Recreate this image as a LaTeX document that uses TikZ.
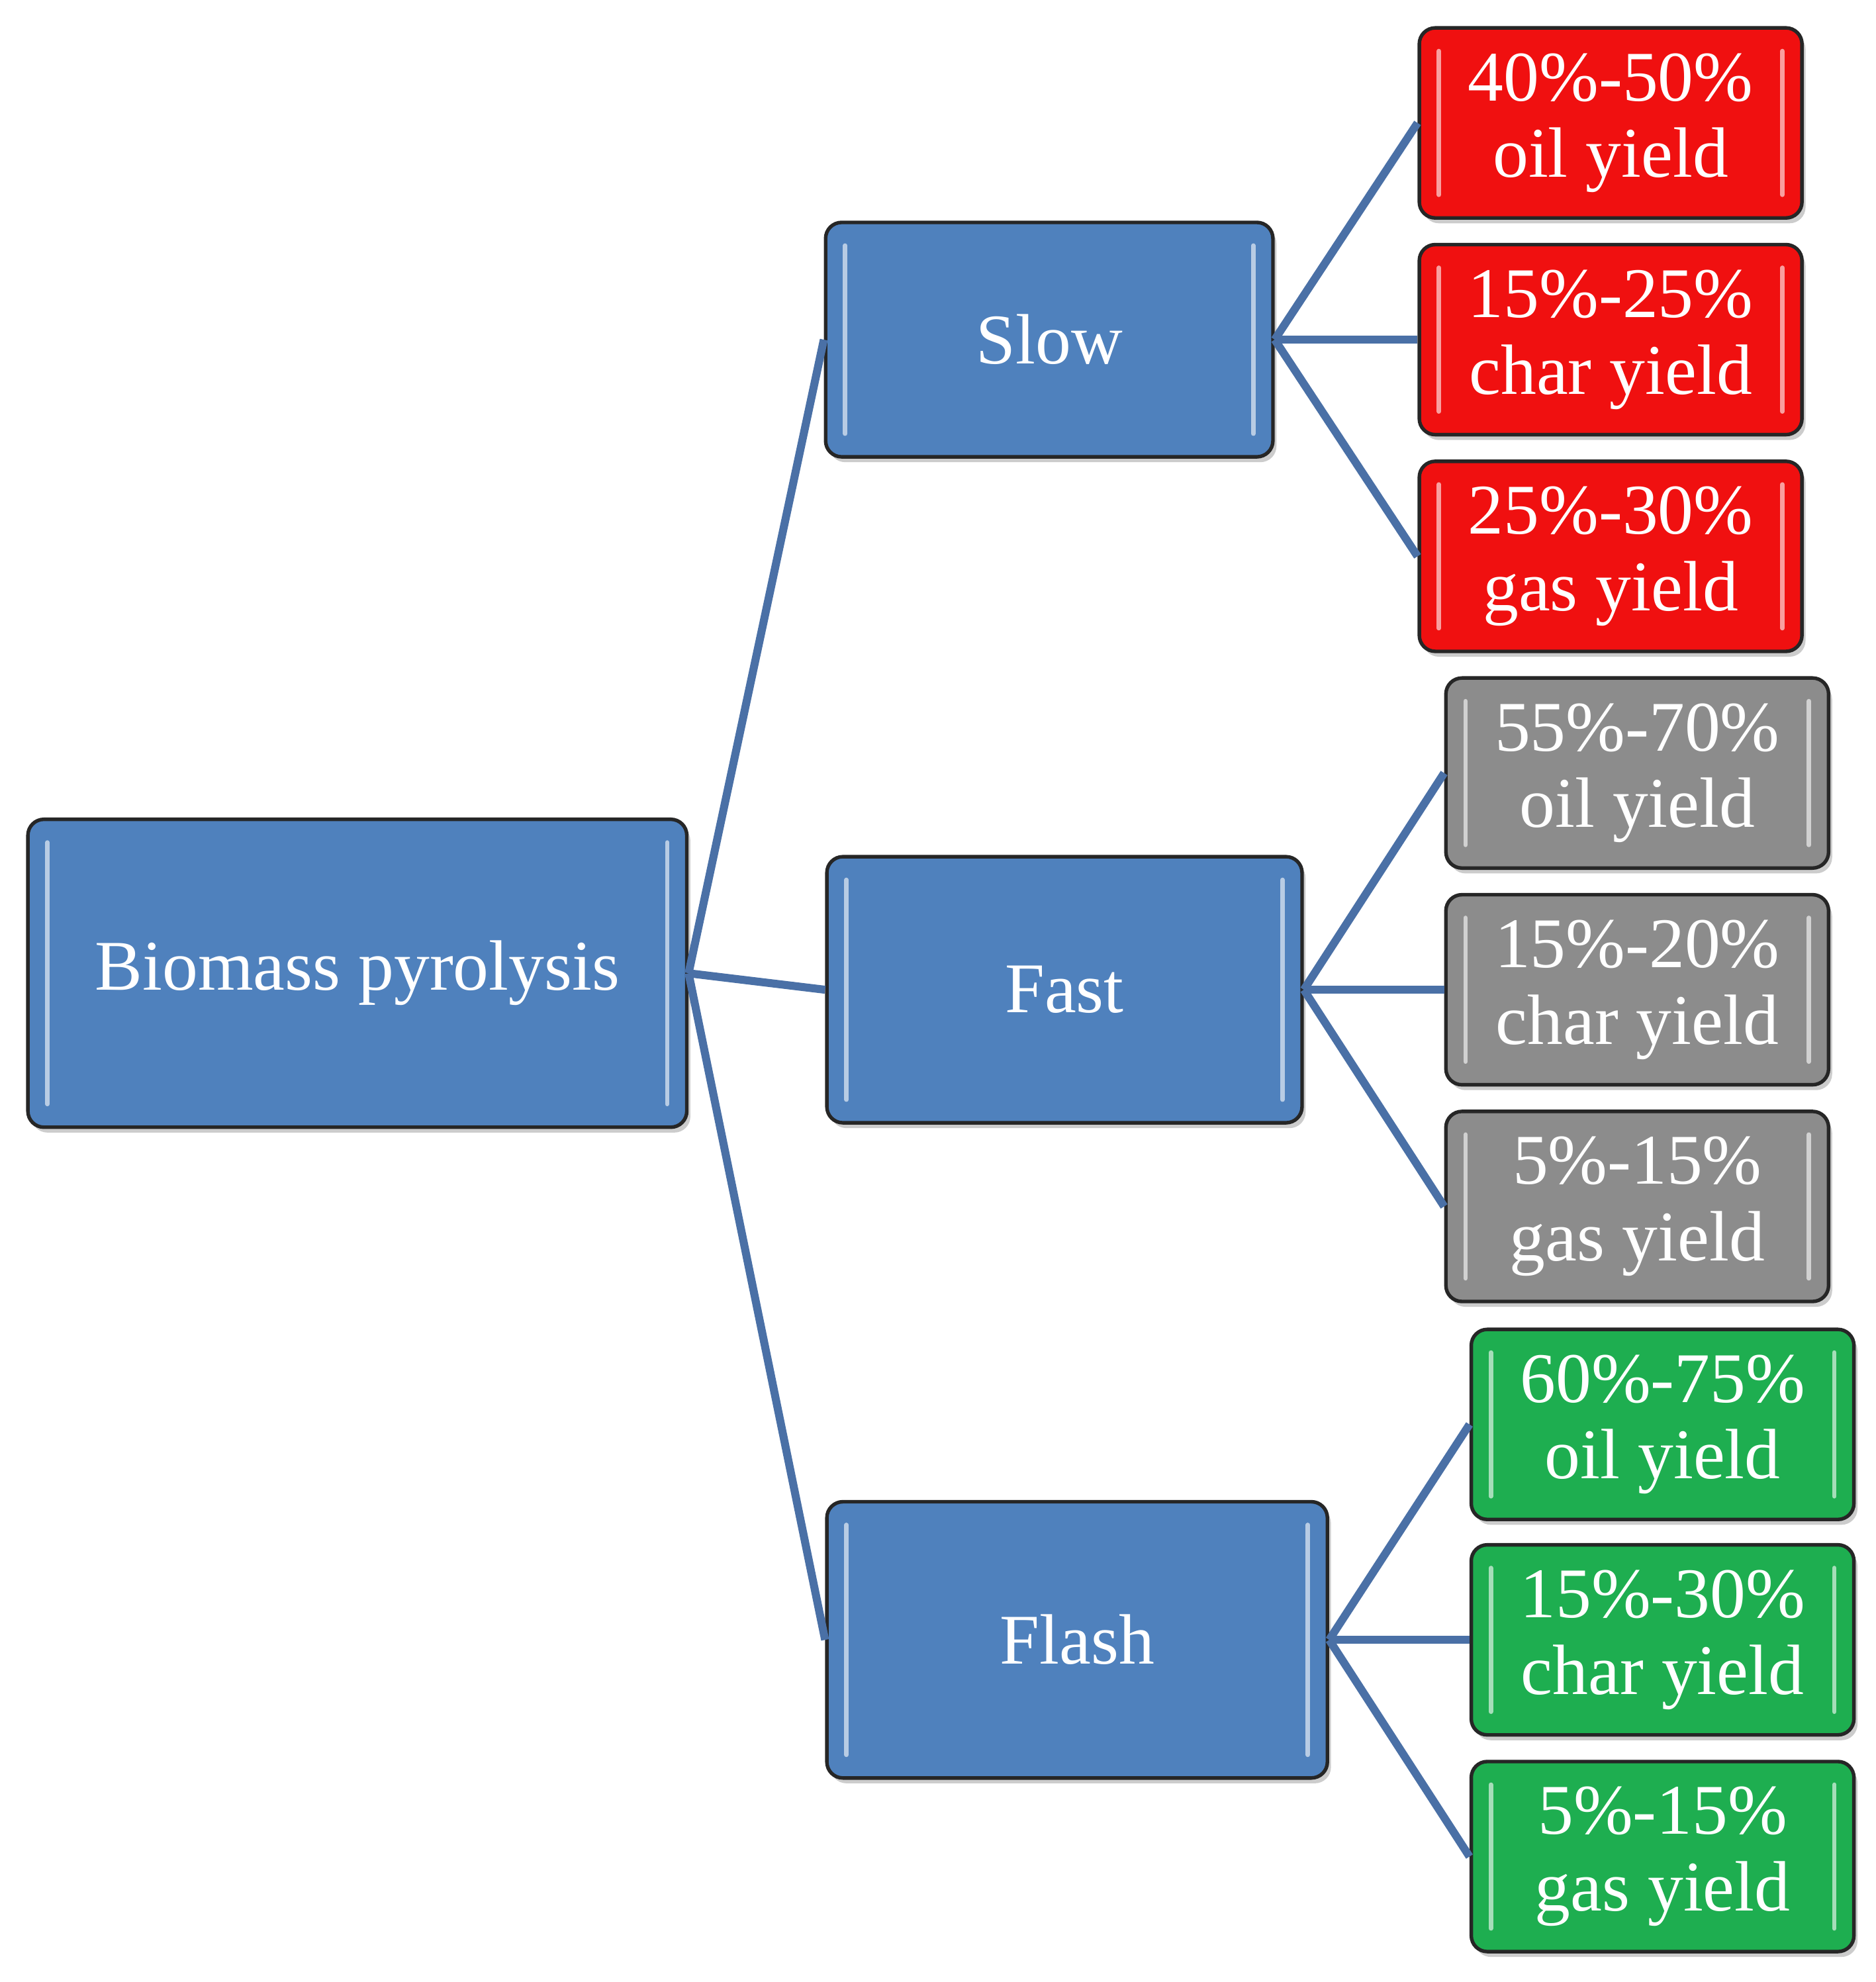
\documentclass[tikz,border=0pt]{standalone}
\usepackage{fontspec}
\setmainfont{Liberation Serif}
\usetikzlibrary{shadows}
\begin{document}
\begin{tikzpicture}[x=0.05cm,y=-0.05cm,
 box/.style={draw=black!85,line width=4pt,rounded corners=18pt,text=white,align=center,
   font=\fontsize{80}{86}\selectfont,inner sep=0pt,drop shadow={shadow xshift=4pt,shadow yshift=-6pt,opacity=.4},
   path picture={\draw[white,opacity=.6,line width=5pt,line cap=round]
     ([xshift=22pt,yshift=-26pt]path picture bounding box.north west)--([xshift=22pt,yshift=26pt]path picture bounding box.south west)
     ([xshift=-22pt,yshift=-26pt]path picture bounding box.north east)--([xshift=-22pt,yshift=26pt]path picture bounding box.south east);}},
 con/.style={draw=conc,line width=9pt}]
\definecolor{bl}{HTML}{4F81BD}\definecolor{conc}{HTML}{4A70A6}
\definecolor{rd}{HTML}{F01010}\definecolor{gy}{HTML}{8C8C8C}\definecolor{gr}{HTML}{1EAE50}
\useasboundingbox (0,0) rectangle (1480,1564);
\newcommand\bx[6]{\node[box,fill=#6,minimum width={(#3-#2)*0.05cm},minimum height={(#5-#4)*0.05cm}] (#1) at ({(#2+#3)/2},{(#4+#5)/2}) {\strut};}
\node[box,fill=bl,minimum width=26cm,minimum height=12.15cm] (bio) at (282,768) {Biomass pyrolysis};
\node[box,fill=bl,minimum width=17.65cm,minimum height=9.25cm] (slow) at (828,268) {Slow};
\node[box,fill=bl,minimum width=18.75cm,minimum height=10.5cm] (fast) at (840,781) {Fast};
\node[box,fill=bl,minimum width=19.75cm,minimum height=10.9cm] (flash) at (850,1294) {Flash};
\tikzset{sm/.style={box,minimum width=15.1cm,minimum height=7.5cm}}
\node[sm,fill=rd] (r1) at (1271,97) {40\%-50\%\\oil yield};
\node[sm,fill=rd] (r2) at (1271,268) {15\%-25\%\\char yield};
\node[sm,fill=rd] (r3) at (1271,439) {25\%-30\%\\gas yield};
\node[sm,fill=gy] (g1) at (1292,610) {55\%-70\%\\oil yield};
\node[sm,fill=gy] (g2) at (1292,781) {15\%-20\%\\char yield};
\node[sm,fill=gy] (g3) at (1292,952) {5\%-15\%\\gas yield};
\node[sm,fill=gr] (e1) at (1312,1124) {60\%-75\%\\oil yield};
\node[sm,fill=gr] (e2) at (1312,1294) {15\%-30\%\\char yield};
\node[sm,fill=gr] (e3) at (1312,1465) {5\%-15\%\\gas yield};
\begin{scope}[on background layer/.try]
\end{scope}
\foreach \a in {slow,fast,flash} \draw[con] (bio.east) -- (\a.west);
\foreach \a in {r1,r2,r3} \draw[con] (slow.east) -- (\a.west);
\foreach \a in {g1,g2,g3} \draw[con] (fast.east) -- (\a.west);
\foreach \a in {e1,e2,e3} \draw[con] (flash.east) -- (\a.west);
\end{tikzpicture}
\end{document}
